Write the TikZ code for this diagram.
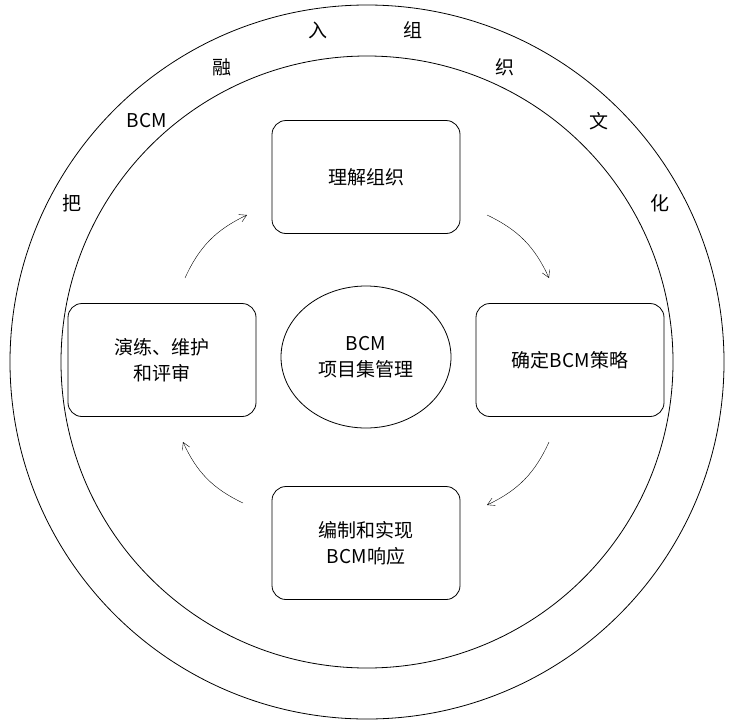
\documentclass[tikz,border=0pt]{standalone}
\usepackage{fontspec}
\setmainfont{Noto Sans CJK SC}
\usetikzlibrary{arrows.meta,shapes.geometric}
\begin{document}
\begin{tikzpicture}[x=1pt,y=-1pt,
  box/.style={draw,thick,rounded corners=14pt,minimum width=188pt,minimum height=113pt,align=center,font=\fontsize{19}{26}\selectfont},
  lab/.style={font=\fontsize{19}{22}\selectfont},
  arr/.style={-{Straight Barb[length=7pt,width=8pt]},thin}]
\useasboundingbox (0,0) rectangle (735,720);
\node[circle,draw,thick,minimum size=714pt] (outer) at (367,362) {};
\node[circle,draw,thick,minimum size=612pt] (inner) at (367,362) {};
\node[ellipse,draw,thick,minimum width=170pt,minimum height=142pt,align=center,font=\fontsize{19}{26}\selectfont] (c) at (366,357) {BCM\\项目集管理};
\node[box] (t) at (366,177) {理解组织};
\node[box] (r) at (570,360) {确定BCM策略};
\node[box] (b) at (366,543) {编制和实现\\BCM响应};
\node[box] (l) at (162,360) {演练、维护\\和评审};
\coordinate (a1) at (487,215); \coordinate (a2) at (549,278);
\coordinate (b1) at (549,442); \coordinate (b2) at (487,505);
\coordinate (c1) at (243,503); \coordinate (c2) at (183,442);
\coordinate (d1) at (185,278); \coordinate (d2) at (247,215);
\draw[arr] (a1) to[bend left=20] (a2);
\draw[arr] (b1) to[bend left=20] (b2);
\draw[arr] (c1) to[bend left=20] (c2);
\draw[arr] (d1) to[bend left=20] (d2);
\node[lab] (w1) at (72,203) {把};
\node[lab] (w2) at (147,121) {BCM};
\node[lab] (w3) at (222,67) {融};
\node[lab] (w4) at (318,30) {入};
\node[lab] (w5) at (413,30) {组};
\node[lab] (w6) at (505,67) {织};
\node[lab] (w7) at (599,121) {文};
\node[lab] (w8) at (660,203) {化};
\end{tikzpicture}
\end{document}
